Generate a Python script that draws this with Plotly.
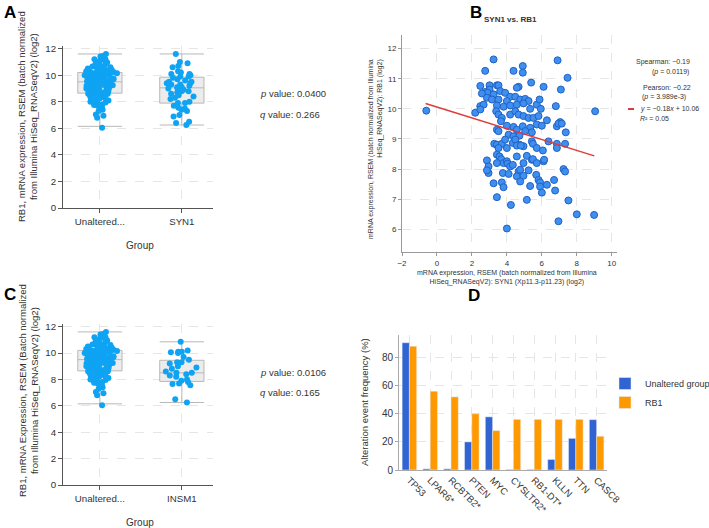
import plotly.graph_objects as go

# ---------------- DATA ----------------
# Panels A & C: RB1 expression per group (log2)
unaltered_vals = [6.05, 6.8, 6.95, 7.05, 7.3, 7.4, 7.55, 7.6, 7.7, 7.75, 7.8, 7.9, 7.95, 8.0, 8.05, 8.1,
                  8.15, 8.2, 8.2, 8.25, 8.3, 8.35, 8.4, 8.4, 8.45, 8.5, 8.5, 8.55, 8.55, 8.6, 8.6, 8.65,
                  8.7, 8.7, 8.75, 8.75, 8.8, 8.8, 8.85, 8.85, 8.9, 8.9, 8.95, 9.0, 9.0, 9.05, 9.05, 9.1,
                  9.1, 9.15, 9.15, 9.2, 9.2, 9.25, 9.25, 9.3, 9.3, 9.35, 9.35, 9.4, 9.4, 9.45, 9.45, 9.5,
                  9.5, 9.55, 9.55, 9.6, 9.6, 9.65, 9.65, 9.7, 9.7, 9.75, 9.75, 9.8, 9.8, 9.85, 9.85, 9.9,
                  9.9, 9.95, 9.95, 10.0, 10.0, 10.0, 10.05, 10.05, 10.1, 10.1, 10.1, 10.15, 10.15, 10.15,
                  10.2, 10.2, 10.2, 10.2, 10.25, 10.25, 10.3, 10.3, 10.35, 10.35, 10.4, 10.4, 10.45, 10.5,
                  10.5, 10.55, 10.6, 10.6, 10.65, 10.7, 10.7, 10.75, 10.8, 10.85, 10.9, 10.95, 11.0, 11.05,
                  11.1, 11.2, 11.2, 11.25, 11.3, 11.4, 11.45, 11.6]
syn1_vals = [6.25, 6.4, 6.5, 6.9, 7.0, 7.3, 7.4, 7.5, 7.55, 7.7, 7.9, 7.9, 8.0, 8.2, 8.3, 8.4, 8.5, 8.6,
             8.7, 8.8, 8.8, 8.9, 9.0, 9.0, 9.1, 9.1, 9.2, 9.3, 9.3, 9.4, 9.4, 9.5, 9.5, 9.6, 9.7, 9.8,
             9.9, 9.9, 10.0, 10.1, 10.1, 10.2, 10.3, 10.6, 10.7, 10.9, 11.0, 11.6]
insm1_vals = [6.25, 6.5, 7.55, 7.65, 7.7, 7.8, 7.9, 8.0, 8.2, 8.3, 8.4, 8.5, 8.5, 8.6, 8.8, 8.9, 9.0,
              9.2, 9.3, 9.3, 9.5, 9.7, 10.0, 10.05, 10.1, 10.1, 10.2, 10.85]

a_cats = ["Unaltered...", "SYN1"]
a_q1 = [8.65, 7.9]
a_med = [9.5, 9.05]
a_q3 = [10.2, 9.85]
a_lo = [6.15, 6.25]
a_hi = [11.6, 11.6]

c_cats = ["Unaltered...", "INSM1"]
c_q1 = [8.65, 7.85]
c_med = [9.5, 8.5]
c_q3 = [10.2, 9.45]
c_lo = [6.15, 6.25]
c_hi = [11.6, 10.85]

# Panel B: SYN1 (x) vs RB1 (y)
b_x = [-0.61, 3.24, 2.76, 6.90, 4.91, 4.91, 4.38, 7.47, 5.39, 6.10, 4.67, 4.57, 7.09, 2.48, 3.01, 3.43,
       3.52, 3.01, 2.76, 2.90, 2.57, 3.24, 3.62, 3.90, 4.19, 2.86, 3.14, 3.52, 4.00, 4.48, 4.76, 5.05,
       5.24, 5.71, 5.87, 2.48, 2.67, 3.43, 3.81, 4.19, 4.57, 4.95, 5.33, 5.94, 6.80, 2.19, 2.48, 3.39,
       3.52, 3.71, 4.19, 4.48, 4.67, 4.95, 5.24, 5.52, 5.81, 6.29, 7.05, 6.86, 6.95, 9.05, 3.66, 4.00,
       4.38, 4.57, 4.91, 5.33, 5.71, 6.00, 3.43, 3.52, 4.10, 4.38, 4.72, 5.05, 5.43, 7.14, 7.37, 7.33,
       6.38, 6.86, 6.86, 3.28, 3.43, 3.71, 3.90, 4.34, 4.48, 4.72, 4.95, 5.43, 5.49, 5.71, 6.06, 4.57,
       4.80, 3.52, 4.00, 2.86, 3.43, 3.58, 3.68, 3.81, 4.00, 4.57, 5.14, 5.43, 6.10, 6.13, 2.95, 3.43,
       4.04, 4.19, 4.34, 4.95, 5.49, 5.71, 7.24, 7.33, 2.95, 2.86, 3.77, 4.10, 4.67, 4.76, 4.57, 4.95,
       5.24, 3.24, 3.71, 3.81, 4.76, 5.33, 5.68, 5.81, 5.90, 5.90, 6.00, 6.70, 6.76, 6.29, 3.43, 4.23,
       5.14, 7.52, 8.00, 8.99, 6.95, 4.00]
b_y = [9.94, 11.64, 11.26, 11.61, 11.42, 11.20, 11.26, 11.03, 10.87, 10.73, 10.73, 10.70, 10.64, 10.76,
       10.78, 10.78, 10.78, 10.64, 10.56, 10.53, 10.51, 10.48, 10.59, 10.53, 10.40, 10.37, 10.31, 10.31,
       10.26, 10.40, 10.31, 10.33, 10.26, 10.14, 10.31, 10.09, 10.14, 10.11, 10.07, 10.11, 10.14, 10.18,
       10.00, 10.00, 10.09, 9.87, 9.98, 9.92, 9.81, 9.70, 9.81, 9.92, 9.81, 9.76, 9.70, 9.70, 9.76, 9.62,
       9.56, 9.42, 9.51, 9.92, 9.59, 9.44, 9.40, 9.31, 9.42, 9.37, 9.48, 9.44, 9.31, 9.26, 9.14, 9.09,
       9.11, 9.26, 9.22, 9.51, 9.22, 8.84, 8.92, 8.84, 8.70, 8.84, 8.81, 8.84, 8.98, 8.87, 8.98, 8.81,
       8.76, 8.92, 8.84, 8.70, 8.62, 8.78, 8.78, 8.70, 8.70, 8.29, 8.48, 8.42, 8.33, 8.20, 8.26, 8.42,
       8.44, 8.31, 8.26, 8.31, 8.09, 8.20, 8.18, 8.09, 8.14, 8.20, 8.33, 8.20, 8.00, 7.92, 7.87, 7.96,
       7.87, 7.84, 7.92, 7.98, 7.76, 7.78, 7.96, 7.53, 7.56, 7.40, 7.59, 7.44, 7.81, 7.64, 7.56, 7.42,
       7.22, 7.64, 7.29, 7.48, 7.07, 6.81, 6.98, 6.96, 6.50, 6.48, 6.27, 6.03]
reg_slope = -0.18
reg_intercept = 10.06
reg_x = [-0.65, 9.0]

# Panel D: alteration event frequency (%)
d_genes = ["TP53", "LPAR6*", "RCBTB2*", "PTEN", "MYC", "CYSLTR2*", "RB1-DT*", "KLLN", "TTN", "CASC8"]
d_unaltered = [90.5, 0.8, 0.8, 20.0, 37.8, 0.3, 0.3, 7.5, 22.5, 35.8]
d_rb1 = [88.0, 56.0, 52.0, 40.0, 28.0, 36.0, 36.0, 36.0, 36.0, 24.0]

# ---------------- STYLE ----------------
W, H = 709, 528
FONT = "Liberation Sans, Arial, sans-serif"
PT = "#0fa3f3"
BOXFILL = "#ececec"
BOXLINE = "#b8b8b8"
GRID = "#e6e6e6"
TXT = "#333333"


def fx(x):
    return x / W


def fy(y):
    return 1 - y / H


fig = go.Figure()


def add_box_panel(xa, ya, cats, q1, med, q3, lo, hi, groups):
    fig.add_trace(go.Box(x=cats, q1=q1, median=med, q3=q3, lowerfence=lo, upperfence=hi,
                         width=0.54, whiskerwidth=1, fillcolor=BOXFILL,
                         line=dict(color=BOXLINE, width=1), boxpoints=False,
                         xaxis=xa, yaxis=ya, showlegend=False, hoverinfo="skip"))
    for cat, vals in zip(cats, groups):
        fig.add_trace(go.Box(x=[cat] * len(vals), y=vals, boxpoints="all", jitter=0.8, pointpos=0,
                             width=0.54, fillcolor="rgba(0,0,0,0)",
                             line=dict(width=0, color="rgba(0,0,0,0)"),
                             marker=dict(color=PT, size=6, line=dict(width=0)),
                             xaxis=xa, yaxis=ya, showlegend=False))


add_box_panel("x", "y", a_cats, a_q1, a_med, a_q3, a_lo, a_hi, [unaltered_vals, syn1_vals])
add_box_panel("x3", "y3", c_cats, c_q1, c_med, c_q3, c_lo, c_hi, [unaltered_vals, insm1_vals])

# Panel B
fig.add_trace(go.Scatter(x=b_x, y=b_y, mode="markers",
                         marker=dict(size=7, color="#3f8ff0", line=dict(color="#1f62c4", width=1)),
                         xaxis="x2", yaxis="y2", showlegend=False))
fig.add_trace(go.Scatter(x=reg_x, y=[reg_intercept + reg_slope * v for v in reg_x], mode="lines",
                         line=dict(color="#e03a3a", width=1.5), xaxis="x2", yaxis="y2",
                         showlegend=False))

# Panel D
fig.add_trace(go.Bar(x=d_genes, y=d_unaltered, name="Unaltered group", marker_color="#3064d2",
                     xaxis="x4", yaxis="y4"))
fig.add_trace(go.Bar(x=d_genes, y=d_rb1, name="RB1", marker_color="#ff9900",
                     xaxis="x4", yaxis="y4"))

tickf = dict(family=FONT, size=9.7, color=TXT)
tickfs = dict(family=FONT, size=8, color=TXT)

box_x = dict(type="category", range=[-0.45, 1.38], showline=True, linecolor="#555", linewidth=1,
             ticks="outside", ticklen=4, tickcolor="#555", showgrid=True, gridcolor=GRID,
             griddash="dash", tickfont=tickf, zeroline=False, automargin=False)
box_y = dict(range=[0, 12.2], tickvals=[0, 2, 4, 6, 8, 10, 12], showline=True, linecolor="#555",
             linewidth=1, ticks="outside", ticklen=4, tickcolor="#555", showgrid=True,
             gridcolor=GRID, griddash="dash", tickfont=tickf, zeroline=False, automargin=False)

fig.update_layout(
    width=W, height=H, margin=dict(l=0, r=0, t=0, b=0, autoexpand=False),
    paper_bgcolor="white", plot_bgcolor="white",
    font=dict(family=FONT, color=TXT),
    barmode="group", bargap=0.3, bargroupgap=0.0, boxmode="overlay",
    xaxis=dict(domain=[fx(63), fx(213)], anchor="y", **box_x),
    yaxis=dict(domain=[fy(208), fy(46)], anchor="x", **box_y),
    xaxis3=dict(domain=[fx(63), fx(213)], anchor="y3", **box_x),
    yaxis3=dict(domain=[fy(485), fy(324)], anchor="x3", **box_y),
    xaxis2=dict(domain=[fx(402), fx(617)], anchor="y2", range=[-2, 10.3], dtick=2, tick0=-2,
                showline=True, linecolor="#999", ticks="outside", ticklen=3, tickcolor="#999",
                showgrid=True, gridcolor=GRID, griddash="dash", zeroline=False, tickfont=tickfs,
                automargin=False),
    yaxis2=dict(domain=[fy(252), fy(35)], anchor="x2", range=[5.25, 12.45], dtick=1,
                showline=True, linecolor="#999", ticks="outside", ticklen=3, tickcolor="#999",
                showgrid=True, gridcolor=GRID, griddash="dash", zeroline=False, tickfont=tickfs,
                automargin=False),
    xaxis4=dict(domain=[fx(399), fx(607)], anchor="y4", type="category", tickangle=45,
                showline=True, linecolor="#aaa", ticks="", showgrid=True, gridcolor=GRID,
                griddash="dash", tickfont=dict(family=FONT, size=9.5, color=TXT),
                automargin=False),
    yaxis4=dict(domain=[fy(470), fy(335)], anchor="x4", range=[0, 96], tickvals=[0, 20, 40, 60, 80],
                showline=True, linecolor="#aaa", ticks="outside", ticklen=3, tickcolor="#aaa",
                showgrid=True, gridcolor=GRID, griddash="dash", zeroline=False,
                tickfont=dict(family=FONT, size=10, color=TXT), automargin=False),
    legend=dict(x=fx(605), y=fy(369), xanchor="left", yanchor="top",
                font=dict(family=FONT, size=9, color=TXT), bgcolor="rgba(0,0,0,0)",
                itemwidth=30, tracegroupgap=0),
)

ann = []


def A(x, y, text, size=10, xanchor="center", yanchor="middle", angle=0, align="center",
      color=TXT):
    ann.append(dict(x=fx(x), y=fy(y), xref="paper", yref="paper", text=text, showarrow=False,
                    xanchor=xanchor, yanchor=yanchor, textangle=angle, align=align,
                    font=dict(family=FONT, size=size, color=color)))


# Panel letters
for lab, x, y in [("A", 2, 1), ("B", 468, 1), ("C", 2, 283), ("D", 466, 284)]:
    A(x, y, "<b>%s</b>" % lab, size=17, xanchor="left", yanchor="top", color="#000")

# Panel A texts
A(28, 117, "RB1, mRNA expression, RSEM (batch normalized<br>from Illumina HiSeq_RNASeqV2) (log2)",
  size=9.5, angle=-90)
A(140, 245, "Group", size=10)
A(258, 93, "<i>p</i> value: 0.0400", size=9.5, xanchor="left")
A(258, 115, "<i>q</i> value: 0.266", size=9.5, xanchor="left")

# Panel C texts
A(28, 391, "RB1, mRNA Expression, RSEM (Batch normalized<br>from Illumina HiSeq_RNASeqV2) (log2)",
  size=9.5, angle=-90)
A(140, 522, "Group", size=10)
A(258, 372, "<i>p</i> value: 0.0106", size=9.5, xanchor="left")
A(258, 392, "<i>q</i> value: 0.165", size=9.5, xanchor="left")

# Panel B texts
A(510, 20, "<b>SYN1 vs. RB1</b>", size=8)
A(376, 57, "mRNA expression, RSEM (batch normalized from Illumina<br>HiSeq_RNASeqV2): RB1 (log2)",
  size=7, angle=-90, yanchor="top", align="right")
A(507, 277, "mRNA expression, RSEM (batch normalized from Illumina<br>"
            "HiSeq_RNASeqV2): SYN1 (Xp11.3-p11.23) (log2)", size=7)
A(663, 62, "Spearman: \u22120.19", size=7)
A(670, 72, "(<i>p</i> = 0.0119)", size=7)
A(667, 87, "Pearson: \u22120.22", size=7)
A(664, 97, "(<i>p</i> = 3.989e-3)", size=7)
A(638, 109, "<i>y</i> = \u22120.18<i>x</i> + 10.06", size=7, xanchor="left")
A(638, 119, "<i>R</i>\u00b2 = 0.05", size=7, xanchor="left")

# Panel D texts
A(364, 402, "Alteration event frequency (%)", size=9.5, angle=-90)

fig.update_layout(annotations=ann)
fig.add_shape(type="line", xref="paper", yref="paper", x0=fx(628), x1=fx(634), y0=fy(109),
              y1=fy(109), line=dict(color="#e03a3a", width=2))

fig.write_html("out.html", config={"displayModeBar": False},
               post_script="document.body.style.margin='0px';document.body.style.overflow='hidden';")
